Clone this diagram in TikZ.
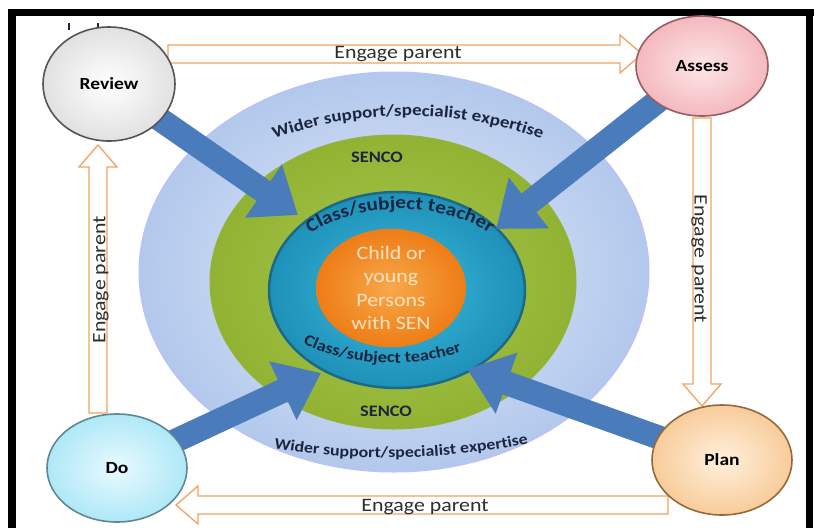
\documentclass[tikz,border=0pt]{standalone}
\usepackage{fontspec}
\setmainfont{Carlito}
\newfontfamily\lbl[FakeStretch=1.15]{Carlito}
\usetikzlibrary{calc,decorations.text,arrows.meta,shapes.geometric}
\definecolor{navy}{HTML}{1B2540}
\definecolor{arrowblue}{HTML}{4A7CBC}
\definecolor{oline}{HTML}{F2A262}
\definecolor{engtext}{HTML}{2E2E2E}
\definecolor{cream}{HTML}{FDE3C0}
\newcommand\hollow[2]{%
  \coordinate (hb) at ($(#2)!22pt!(#1)$);
  \draw[oarrow] ($(#1)!9pt!90:(#2)$) -- ($(hb)!9pt!-90:(#1)$) -- ($(hb)!19pt!-90:(#1)$) -- (#2)
    -- ($(hb)!19pt!90:(#1)$) -- ($(hb)!9pt!90:(#1)$) -- ($(#1)!9pt!-90:(#2)$) -- cycle;}
\tikzset{
  ring/.style={ellipse, inner sep=0pt},
  lblcircle/.style={ellipse, inner sep=0pt, line width=1.6pt, font=\lbl\bfseries\fontsize{17}{20}\selectfont, text=black},
  bluearrow/.style={draw=arrowblue, line width=24pt, -{Triangle[width=62pt,length=42pt]}},
  oarrow/.style={draw=oline, fill=white, line width=1.3pt, line join=miter},
  eng/.style={font=\lbl\fontsize{19}{20}\selectfont, text=engtext, inner sep=0pt},
  senco/.style={font=\lbl\bfseries\fontsize{16}{18}\selectfont, text=navy, inner sep=0pt}
}
\begin{document}
\begin{tikzpicture}[x=1pt,y=-1pt]
\useasboundingbox (0,0) rectangle (814,528);
\fill[white] (0,0) rectangle (814,528);
% frame
\fill[black] (8,9) rectangle (16,528);
\fill[black] (8,9) rectangle (814,16);
\fill[black] (806,9) rectangle (813,528);
% small marks
\draw[navy, line width=2.5pt] (69,23) -- (69,30) (98,23) -- (98,30);

% concentric rings
\node[ring, minimum width=510, minimum height=400, draw=blue!25!white, line width=1pt, inner color={rgb,255:red,228;green,236;blue,249}, outer color={rgb,255:red,178;green,200;blue,236}] (outer) at (394,272) {};
\node[ring, minimum width=366, minimum height=294, draw={rgb,255:red,150;green,180;blue,60}, line width=1pt, inner color={rgb,255:red,170;green,200;blue,80}, outer color={rgb,255:red,145;green,178;blue,50}] (green) at (393,282) {};
\node[ring, minimum width=256, minimum height=196, draw={rgb,255:red,28;green,105;blue,135}, line width=2.5pt, inner color={rgb,255:red,60;green,185;blue,218}, outer color={rgb,255:red,30;green,145;blue,185}] (teal) at (397,290) {};
\node[ring, minimum width=150, minimum height=112, inner color={rgb,255:red,248;green,168;blue,75}, outer color={rgb,255:red,238;green,125;blue,22}, align=center, text=cream, font=\lbl\fontsize{19}{23.5}\selectfont] (child) at (391,288) {Child or\\young\\Persons\\with SEN};

% ring texts
\path[decorate, decoration={text along path, text align=center, text color=navy,
  text={|\lbl\bfseries\fontsize{16.5}{18}\selectfont|Wider support/specialist expertise}}]
  (408,272) ++(205:255 and 156) arc[start angle=205, end angle=335, x radius=255, y radius=156];
\node[senco] (senco1) at (377,157) {SENCO};
\path[decorate, decoration={text along path, text align=center, text color=navy,
  text={|\lbl\bfseries\fontsize{18.5}{20}\selectfont|Class/subject  teacher}}]
  (400,292) ++(195:127 and 83) arc[start angle=195, end angle=345, x radius=127, y radius=83];
\path[decorate, decoration={text along path, text align=center, text color=navy,
  text={|\lbl\bfseries\fontsize{16}{18}\selectfont|Class/subject teacher}}]
  (392,290) ++(170:130 and 73) arc[start angle=170, end angle=25, x radius=130, y radius=73];
\node[senco] (senco2) at (386,411) {SENCO};
\path[decorate, decoration={text along path, text align=center, text color=navy,
  text={|\lbl\bfseries\fontsize{15.5}{18}\selectfont|Wider  support/specialist expertise}}]
  (252,444) .. controls (340,464) and (460,462) .. (550,438);

% blue arrows
\coordinate (revc) at (109,84);
\coordinate (assc) at (702,66);
\coordinate (doc) at (117,468);
\coordinate (planc) at (722,460);
\coordinate (t1) at (298,215);
\coordinate (t2) at (496,229);
\coordinate (t3) at (321,373);
\coordinate (t4) at (467,369);
\draw[bluearrow] (revc) -- (t1);
\draw[bluearrow] (assc) -- (t2);
\draw[bluearrow] (doc) -- (t3);
\draw[bluearrow] (planc) -- (t4);

% hollow orange arrows
\coordinate (h1s) at (168,54);  \coordinate (h1e) at (642,54);
\coordinate (h2s) at (702,118); \coordinate (h2e) at (702,406);
\coordinate (h3s) at (668,505); \coordinate (h3e) at (176,505);
\coordinate (h4s) at (98,413);  \coordinate (h4e) at (98,145);
\hollow{h1s}{h1e}
\hollow{h2s}{h2e}
\hollow{h3s}{h3e}
\hollow{h4s}{h4e}
\node[eng] (e1) at (398,54) {Engage parent};
\node[eng, rotate=-90] (e2) at (699,259) {Engage\,\,parent};
\node[eng] (e3) at (425,507) {Engage parent};
\node[eng, rotate=90] (e4) at (101,280) {Engage parent};

% stage circles
\node[lblcircle, minimum width=132, minimum height=114, draw={rgb,255:red,85;green,85;blue,85}, inner color=white, outer color={rgb,255:red,225;green,225;blue,225}] (rev) at (revc) {Review};
\node[lblcircle, minimum width=132, minimum height=100, draw={rgb,255:red,150;green,95;blue,100}, inner color={rgb,255:red,253;green,230;blue,232}, outer color={rgb,255:red,244;green,185;blue,190}] (ass) at (assc) {Assess};
\node[lblcircle, minimum width=140, minimum height=108, draw={rgb,255:red,95;green,135;blue,150}, inner color={rgb,255:red,232;green,250;blue,255}, outer color={rgb,255:red,175;green,232;blue,247}] (do) at (doc) {Do};
\node[lblcircle, minimum width=140, minimum height=110, draw={rgb,255:red,150;green,105;blue,60}, inner color={rgb,255:red,255;green,240;blue,220}, outer color={rgb,255:red,248;green,204;blue,155}] (plan) at (planc) {Plan};
\end{tikzpicture}
\end{document}
